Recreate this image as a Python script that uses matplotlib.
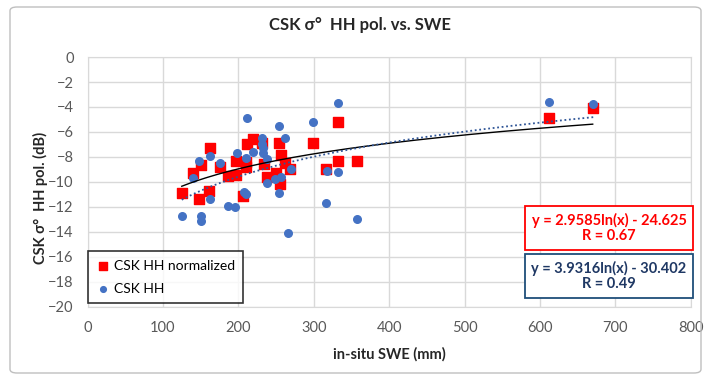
import numpy as np
import matplotlib
matplotlib.use("Agg")
import matplotlib.pyplot as plt
from matplotlib.patches import FancyBboxPatch

plt.rcParams['font.family'] = ['Lato', 'DejaVu Sans']

# CSK HH normalized (red squares)
swe_norm = [125, 140, 150, 162.5, 148, 161.6, 175.7, 186, 197, 197, 206.6, 209.8, 209.8,
            212, 220, 232, 234.5, 238.5, 249.6, 253.6, 255.3, 256.6, 262, 268.6, 298.7,
            316, 332.6, 332.6, 357.8, 612.5, 670]
hh_norm = [-10.9, -9.25, -8.65, -7.3, -11.4, -10.7, -8.8, -9.5, -9.45, -8.3, -11.1, -8.8, -8.4,
           -7.0, -6.6, -6.9, -8.6, -9.6, -9.3, -6.85, -10.2, -7.85, -8.45, -9.0, -6.85,
           -9.0, -5.2, -8.3, -8.3, -4.9, -4.05]

# CSK HH (blue circles)
swe_hh = [125, 150, 150, 140, 148, 162.5, 162.5, 175.7, 186, 196, 198.7, 207.6, 209.8, 210,
          212, 220, 231.4, 232, 232.5, 233, 237.6, 237.6, 248.7, 253.6, 253.6, 256.6, 262,
          266.3, 270, 298.7, 316.3, 317, 332.6, 332.6, 357.8, 612.5, 671]
hh_hh = [-12.7, -12.7, -13.1, -9.7, -8.3, -7.9, -11.4, -8.45, -11.9, -12.0, -7.7, -10.8, -11.0, -8.1,
         -4.9, -7.6, -6.5, -7.0, -7.3, -7.7, -8.2, -10.05, -9.8, -5.5, -10.9, -9.6, -6.5,
         -14.1, -9.0, -5.2, -11.7, -9.1, -3.7, -9.2, -13.0, -3.6, -3.75]

# trend line coefficients (from the chart labels)
a_norm, b_norm = 2.9585, -24.625
a_hh, b_hh = 3.9316, -30.402

fig = plt.figure(figsize=(7.08, 3.79), dpi=100)
ax = fig.add_axes([0.1236, 0.19, 0.852, 0.6596])

ax.scatter(swe_norm, hh_norm, marker='s', s=55, color='#FF0000', zorder=3, label='CSK HH normalized')
ax.scatter(swe_hh, hh_hh, marker='o', s=30, color='#4472C4', zorder=4, label='CSK HH')

xx = np.linspace(min(swe_norm), max(swe_norm), 200)
ax.plot(xx, a_norm * np.log(xx) + b_norm, color='black', lw=1.0, zorder=5)
xx2 = np.linspace(min(swe_hh), max(swe_hh), 200)
ax.plot(xx2, a_hh * np.log(xx2) + b_hh, color='#2F5597', lw=1.3, ls=(0, (1, 1.5)), zorder=5)

ax.set_xlim(0, 800)
ax.set_ylim(-20, 0)
ax.set_xticks(range(0, 801, 100))
ax.set_yticks(range(-20, 1, 2))
ax.grid(color='#D9D9D9', lw=1)
ax.set_axisbelow(True)
for s in ax.spines.values():
    s.set_color('#D9D9D9')
ax.tick_params(length=0, labelsize=10.5, labelcolor='#595959', pad=10)

fig.text(0.508, 1 - 25 / 379, 'CSK σ°  HH pol. vs. SWE', ha='center', va='center',
         fontsize=12, fontweight='bold', color='#262626')
ax.set_xlabel('in-situ SWE (mm)', fontsize=10.5, fontweight='bold', color='#262626', labelpad=9)
fig.text(40 / 708, 1 - 198 / 379, 'CSK σ°  HH pol. (dB)', rotation=90, ha='center', va='center',
         fontsize=10.5, fontweight='bold', color='#262626')

leg = ax.legend(loc='lower left', bbox_to_anchor=(0.0, 0.016), borderaxespad=0, fontsize=10,
                frameon=True, fancybox=False, edgecolor='black', handletextpad=0.2, borderpad=0.6,
                labelspacing=0.8, handlelength=1.1, markerscale=0.75)
leg.get_frame().set_linewidth(1.2)
leg.set_zorder(6)

ax.text(609, 379 - 228, 'y = 2.9585ln(x) - 24.625\nR = 0.67', transform=None, ha='center',
        va='center', fontsize=10.5, fontweight='bold', color='#FF0000', linespacing=1.15, zorder=6,
        bbox=dict(boxstyle='square,pad=0.45', fc='white', ec='#FF0000', lw=1.3))
ax.text(609, 379 - 276, 'y = 3.9316ln(x) - 30.402\nR = 0.49', transform=None, ha='center',
        va='center', fontsize=10.5, fontweight='bold', color='#1F3864', linespacing=1.15, zorder=6,
        bbox=dict(boxstyle='square,pad=0.45', fc='white', ec='#1F4E79', lw=1.3))

border = FancyBboxPatch((10 / 708, 6 / 379), 691 / 708, 366 / 379,
                        boxstyle='round,pad=0,rounding_size=0.01',
                        transform=fig.transFigure, fill=False, ec='#BFBFBF', lw=1)
fig.patches.append(border)

fig.savefig('out.png', dpi=100)
